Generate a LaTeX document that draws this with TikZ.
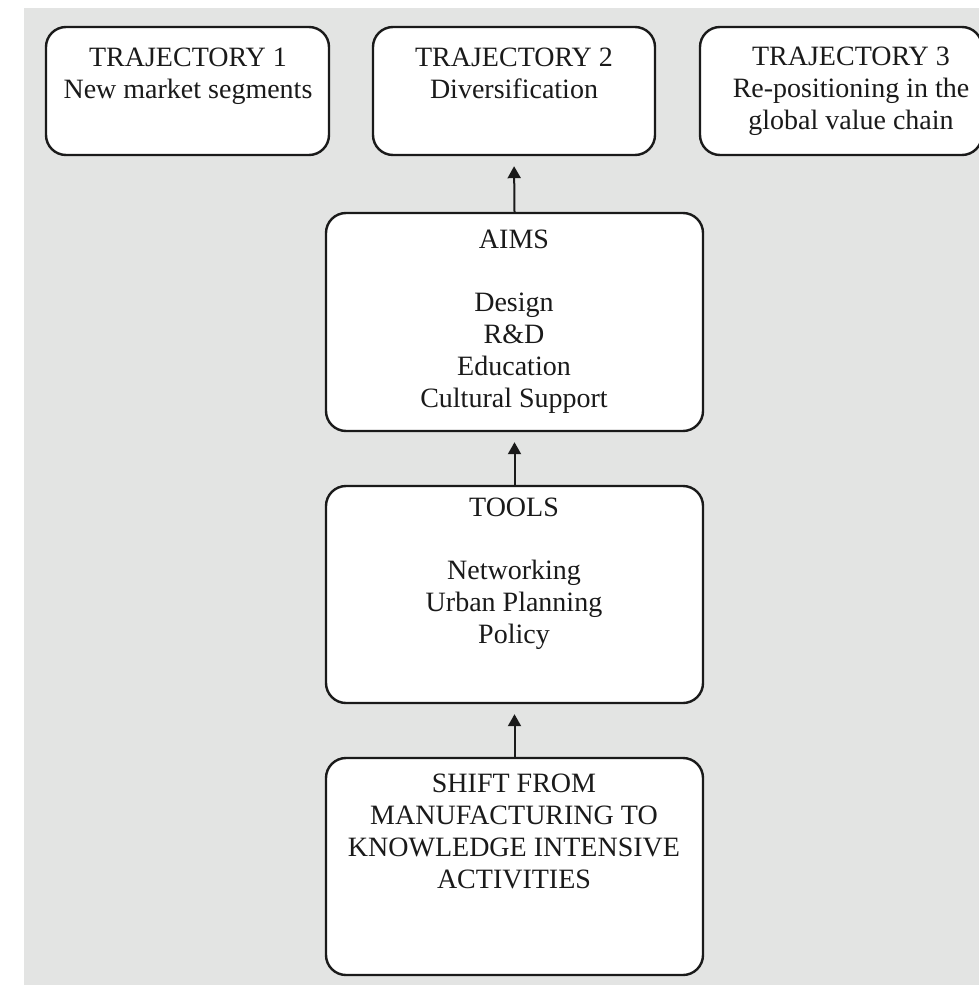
\documentclass[tikz,border=0pt]{standalone}
\usepackage{fontspec}
\setmainfont{Liberation Serif}
\usetikzlibrary{arrows.meta,positioning}

\definecolor{panelgray}{HTML}{E3E4E3}
\definecolor{boxink}{HTML}{1A1A1A}
\tikzset{
  stage box/.style={draw=boxink, fill=white, line width=1.2pt, rounded corners=10pt, inner sep=0pt},
  stage text/.style={anchor=base, align=center, inner sep=0pt, text=boxink,
    font=\fontsize{14}{15.85}\selectfont},
  step arrow/.style={boxink, line width=1pt, -{Triangle[width=6.5pt,length=6pt]}, shorten >=5pt},
}

\begin{document}
\begin{tikzpicture}[x=0.5pt, y=-0.5pt]
  \useasboundingbox (0,0) rectangle (979,985);
  \fill[panelgray] (24,8) rectangle (979,985);

  % trajectories
  \node[stage box, minimum width=141.5pt, minimum height=64pt] (t1) at (187.5,91) {};
  \node[stage box, minimum width=141pt, minimum height=64pt] (t2) at (514,91) {};
  \node[stage box, minimum width=141pt, minimum height=64pt] (t3) at (841,91) {};
  % texts sit on the baseline of their last line
  \node[stage text] (t1txt) at (188,98) {TRAJECTORY 1\\New market segments};
  \node[stage text] (t2txt) at (514,98) {TRAJECTORY 2\\Diversification};
  \node[stage text] (t3txt) at (851,129) {TRAJECTORY 3\\Re-positioning in the\\global value chain};

  % central column
  \node[stage box, minimum width=188.5pt, minimum height=109pt] (aims) at (514.5,322) {};
  \node[stage box, minimum width=188.5pt, minimum height=108.5pt] (tools) at (514.5,594.5) {};
  \node[stage box, minimum width=188.5pt, minimum height=108.5pt] (shift) at (514.5,866.5) {};
  \node[stage text] (aimstxt) at (514,407) {AIMS\\[15.85pt]Design\\R\&D\\Education\\Cultural Support};
  \node[stage text] (toolstxt) at (514,643) {TOOLS\\[15.85pt]Networking\\Urban Planning\\Policy};
  \node[stage text] (shifttxt) at (514,888) {SHIFT FROM\\MANUFACTURING TO\\KNOWLEDGE INTENSIVE\\ACTIVITIES};

  \draw[step arrow] (shift.north) -- (tools.south);
  \draw[step arrow] (tools.north) -- (aims.south);
  \draw[step arrow] (aims.north) -- (t2.south);
\end{tikzpicture}
\end{document}
